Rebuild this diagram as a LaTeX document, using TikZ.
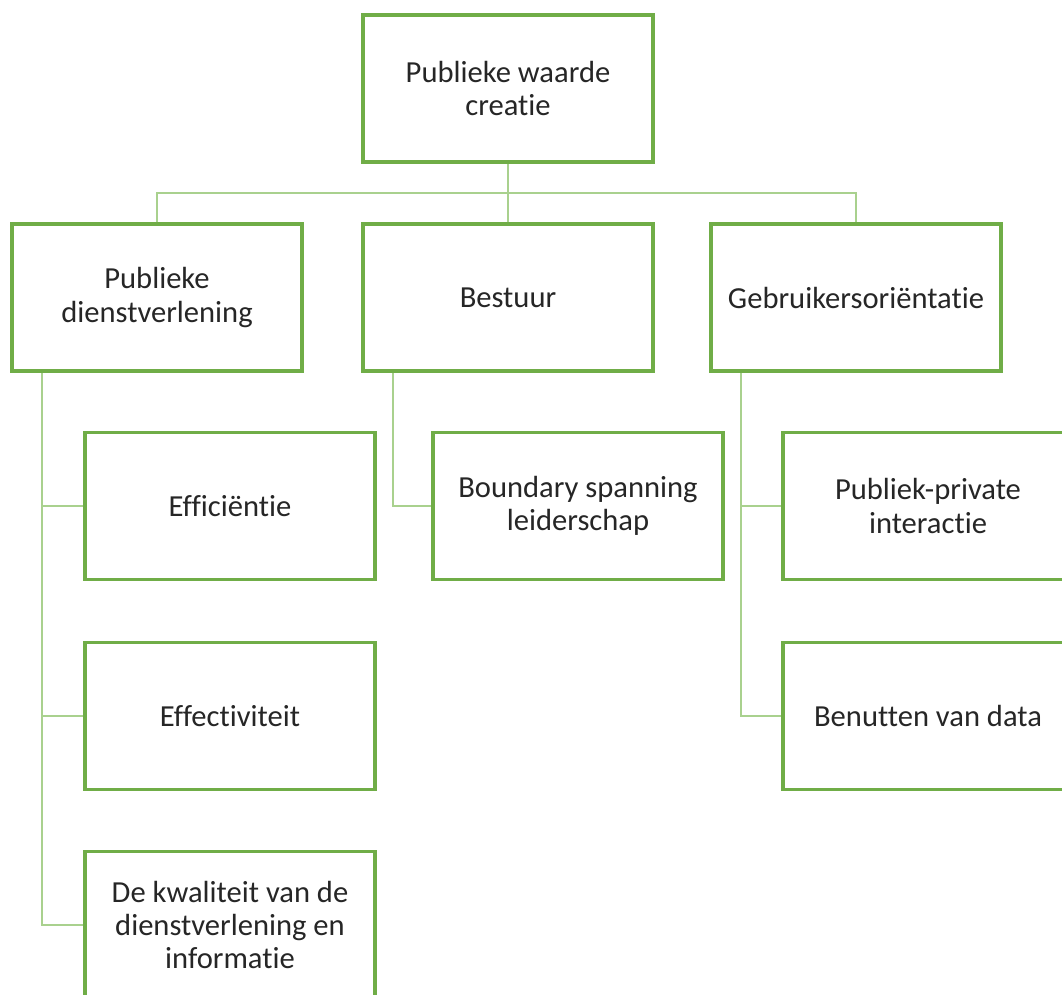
\documentclass[tikz,border=0pt]{standalone}
\usepackage{fontspec}
\setmainfont{Carlito}[Ligatures={NoCommon}]
\usepackage{tikz}
\usetikzlibrary{positioning}
\definecolor{boxgreen}{HTML}{70AD47}
\definecolor{linegreen}{HTML}{A9D18E}
\definecolor{txt}{HTML}{262626}

\begin{document}
\begin{tikzpicture}[
  blok/.style={draw=boxgreen, line width=2pt, fill=white, minimum width=5.8cm,
    minimum height=2.94cm, align=center, text=txt,
    font=\fontsize{17.4}{19}\selectfont},
  link/.style={draw=linegreen, line width=1.3pt}]
\useasboundingbox (0,0) rectangle (21.24,-19.88);
\clip (0,0) rectangle (21.24,-19.88);
% verbindingen
\coordinate (bus) at (10.16,-3.86);
% bovenste blok
\node [blok] (pwc) at (10.16,-1.77) {Publieke waarde\\creatie};
% tweede rij
\node [blok] (pd) at (3.14,-5.95) {Publieke\\dienstverlening};
\node [blok] (be) at (10.16,-5.95) {Bestuur};
\node [blok] (go) at (17.12,-5.95) {Gebruikersoriëntatie};
% onderliggende blokken
\node [blok] (eff) at (4.6,-10.12) {Efficiëntie};
\node [blok] (efv) at (4.6,-14.32) {Effectiviteit};
\node [blok] (kw) at (4.6,-18.5) {De kwaliteit van de\\dienstverlening en\\informatie};
\node [blok] (bsl) at (11.56,-10.12) {Boundary spanning\\leiderschap};
\node [blok] (ppi) at (18.56,-10.12) {Publiek-private\\interactie};
\node [blok] (bvd) at (18.56,-14.32) {Benutten van data};
% lijnen
\draw [link] (pwc.south) -- (bus);
\draw [link] (pd.north) |- (bus) -| (go.north);
\draw [link] (bus) -- (be.north);
\draw [link] ([xshift=-2.3cm]pd.south) |- (kw.west);
\draw [link] ([xshift=-2.3cm]pd.south |- eff.west) -- (eff.west);
\draw [link] ([xshift=-2.3cm]pd.south |- efv.west) -- (efv.west);
\draw [link] ([xshift=-2.3cm]be.south) |- (bsl.west);
\draw [link] ([xshift=-2.3cm]go.south) |- (bvd.west);
\draw [link] ([xshift=-2.3cm]go.south |- ppi.west) -- (ppi.west);
\end{tikzpicture}
\end{document}
